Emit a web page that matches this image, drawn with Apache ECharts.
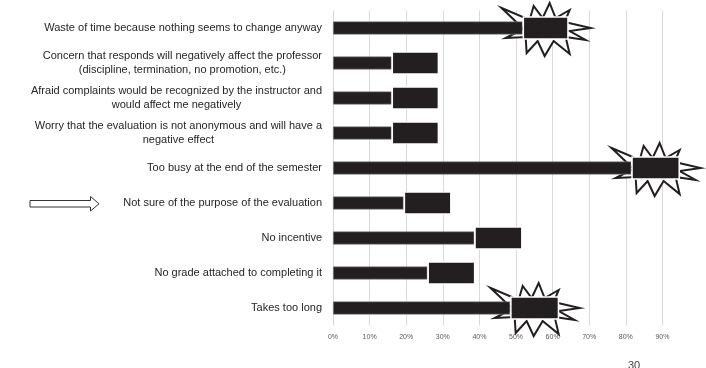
<!DOCTYPE html>
<html>
<head>
<meta charset="utf-8">
<script src="https://cdn.jsdelivr.net/npm/echarts@6/dist/echarts.min.js"></script>
<style>
  html, body { margin: 0; padding: 0; background: #fff; }
  #chart { width: 706px; height: 368px; }
</style>
</head>
<body>
<div id="chart"></div>
<script>
// Reasons for not completing course evaluations (top to bottom)
const reasons = [
  'Waste of time because nothing seems to change anyway',
  'Concern that responds will negatively affect the professor\n(discipline, termination, no promotion, etc.)',
  'Afraid complaints would be recognized by the instructor and\nwould affect me negatively',
  'Worry that the evaluation is not anonymous and will have a\nnegative effect',
  'Too busy at the end of the semester',
  'Not sure of the purpose of the evaluation',
  'No incentive',
  'No grade attached to completing it',
  'Takes too long'
];
// Share of students (%) – base bar
const baseShare = [51.8, 16, 16, 16, 81.5, 19.3, 38.6, 25.8, 48.4];
// Additional share (%) – highlighted block at the end of each bar
const extraShare = [12.6, 13, 13, 13, 13.3, 13.1, 13.2, 13.1, 13.4];
// Rows that carry a burst marker
const burstRows = [0, 4, 8];
// Tick values of the percentage axis
const tickValues = [0, 10, 20, 30, 40, 50, 60, 70, 80, 90];

const INK = '#231f20';

// burst outline, offsets in px around the block centre
const burstShape = [
  [-44, -20], [-16, -8], [-12, -22], [-3, -10], [4, -25], [10, -10],
  [24, -18], [19, -6], [45, 0], [24, 3], [40, 12], [20, 9],
  [24, 26], [8, 13], [-1, 28], [-8, 13], [-19, 25], [-20, 9],
  [-40, 10], [-22, 1]
];

const chart = echarts.init(document.getElementById('chart'), null, { renderer: 'canvas' });

const burstData = burstRows.map(r => [baseShare[r] + extraShare[r] / 2, r]);

chart.setOption({
  animation: false,
  backgroundColor: '#fff',
  grid: { left: 333, top: 10.5, width: 366, height: 315, containLabel: false },
  xAxis: {
    type: 'value',
    min: 0, max: 100, interval: 10,
    axisLine: { show: false },
    axisTick: { show: false },
    axisLabel: {
      fontSize: 7, color: '#595959', margin: 8,
      fontFamily: 'Liberation Sans, Arial, sans-serif',
      formatter: v => tickValues.indexOf(v) >= 0 ? v + '%' : ''
    },
    splitLine: { show: true, showMinLine: true, showMaxLine: false, lineStyle: { color: '#d9d9d9', width: 1 } }
  },
  yAxis: [
    {
      type: 'category',
      inverse: true,
      data: reasons,
      axisTick: { show: false },
      axisLine: { show: true, lineStyle: { color: '#d9d9d9', width: 1 } },
      axisLabel: {
        margin: 11,
        align: 'right',
        fontSize: 11,
        color: '#262626',
        fontFamily: 'Liberation Sans, Arial, sans-serif',
        formatter: v => v.split('\n').map(s => '{c|' + s + '}').join('\n'),
        rich: {
          c: { align: 'center', fontSize: 11, lineHeight: 14, color: '#262626',
               fontFamily: 'Liberation Sans, Arial, sans-serif' }
        }
      }
    },
    {
      type: 'category',
      inverse: true,
      data: reasons,
      show: false
    }
  ],
  series: [
    {
      name: 'burst',
      type: 'custom',
      yAxisIndex: 1,
      z: 1,
      silent: true,
      data: burstData,
      renderItem: (params, api) => {
        const c = api.coord([api.value(0), api.value(1)]);
        return {
          type: 'polygon',
          shape: { points: burstShape.map(p => [c[0] + p[0], c[1] + p[1]]) },
          style: { fill: '#fff', stroke: INK, lineWidth: 2, lineJoin: 'miter' }
        };
      }
    },
    {
      name: 'base',
      type: 'bar',
      yAxisIndex: 0,
      barWidth: 13,
      z: 3,
      data: baseShare,
      itemStyle: { color: INK, borderColor: '#8a8a8a', borderWidth: 0.6 }
    },
    {
      name: 'offset',
      type: 'bar',
      yAxisIndex: 1,
      stack: 'block',
      barWidth: 23.5,
      silent: true,
      data: baseShare,
      itemStyle: { color: 'rgba(0,0,0,0)' }
    },
    {
      name: 'extra',
      type: 'bar',
      yAxisIndex: 1,
      stack: 'block',
      barWidth: 23.5,
      z: 4,
      data: extraShare,
      itemStyle: { color: INK, borderColor: '#fff', borderWidth: 1.5 }
    }
  ],
  graphic: [
    {
      type: 'polygon',
      shape: { points: [[30, 200.5], [90.5, 200.5], [90.5, 196.5], [99, 203.8], [90.5, 211], [90.5, 207], [30, 207]] },
      style: { fill: '#fff', stroke: '#333', lineWidth: 1 }
    },
    {
      type: 'text',
      left: 628, top: 360,
      style: { text: '30', fontSize: 11, fill: '#404040', fontFamily: 'Liberation Sans, Arial, sans-serif' }
    }
  ]
});
</script>
</body>
</html>
